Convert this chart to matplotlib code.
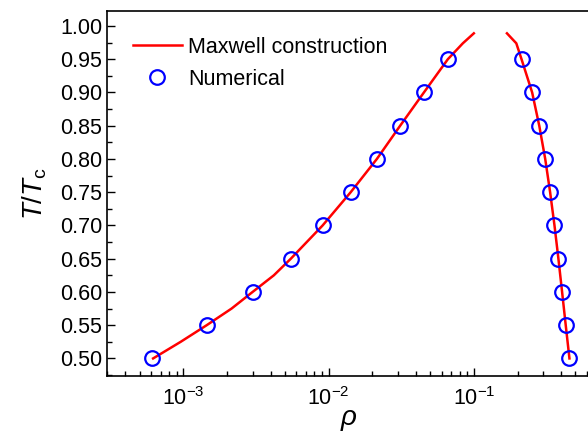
import numpy as np
import matplotlib
matplotlib.use("Agg")
import matplotlib.pyplot as plt
from matplotlib.ticker import LogLocator, MultipleLocator, FormatStrFormatter


# ==========================================================
# DATA
# ==========================================================

# Reduced temperatures of the numerical runs
T_NUM = [0.50, 0.55, 0.60, 0.65, 0.70, 0.75, 0.80, 0.85, 0.90, 0.95]

# Coexisting densities from the simulation (gas / liquid)
RHO_GAS_NUM = [6.07e-4, 1.45e-3, 3.0e-3, 5.5e-3, 9.1e-3, 0.0142, 0.0215, 0.0311, 0.0453, 0.0662]
RHO_LIQ_NUM = [0.455, 0.429, 0.405, 0.382, 0.359, 0.335, 0.310, 0.282, 0.252, 0.213]

# Maxwell construction, gas branch
T_MAX_GAS = [0.50, 0.525, 0.55, 0.575, 0.60, 0.625, 0.65, 0.70, 0.75, 0.80,
             0.85, 0.90, 0.95, 0.974, 0.989]
RHO_GAS_MAX = [6.2e-4, 9.6e-4, 1.45e-3, 2.15e-3, 3.0e-3, 4.2e-3, 5.5e-3, 9.1e-3, 0.0142, 0.0215,
               0.0311, 0.0453, 0.0662, 0.084, 0.100]

# Maxwell construction, liquid branch
T_MAX_LIQ = [0.50, 0.55, 0.60, 0.65, 0.70, 0.75, 0.80, 0.85, 0.90, 0.95, 0.974, 0.989]
RHO_LIQ_MAX = [0.455, 0.429, 0.405, 0.382, 0.359, 0.335, 0.310, 0.282, 0.252, 0.213, 0.196, 0.169]


# ==========================================================
# STYLE
# ==========================================================

plt.rcParams["font.family"] = ["Liberation Sans", "DejaVu Sans"]
plt.rcParams["mathtext.fontset"] = "custom"
plt.rcParams["mathtext.rm"] = "Liberation Sans"
plt.rcParams["mathtext.it"] = "Liberation Sans:italic"
plt.rcParams["axes.unicode_minus"] = False

FS = 15.5


def main():
    fig = plt.figure(figsize=(5.88, 4.34), dpi=100)
    ax = fig.add_axes([0.1825, 0.1343, 0.82, 0.841])

    ax.plot(RHO_GAS_MAX, T_MAX_GAS, color="red", lw=1.8, label="Maxwell construction")
    ax.plot(RHO_LIQ_MAX, T_MAX_LIQ, color="red", lw=1.8)
    ax.plot(RHO_GAS_NUM, T_NUM, "o", ms=10.5, mfc="none", mec="blue", mew=1.6,
            label="Numerical")
    ax.plot(RHO_LIQ_NUM, T_NUM, "o", ms=10.5, mfc="none", mec="blue", mew=1.6)

    ax.set_xscale("log")
    ax.set_xlim(3.0e-4, 0.625)
    ax.set_ylim(0.474, 1.023)

    ax.xaxis.set_major_locator(LogLocator(base=10, numticks=10))
    ax.xaxis.set_minor_locator(LogLocator(base=10, subs=np.arange(2, 10), numticks=20))
    ax.yaxis.set_major_locator(MultipleLocator(0.05))
    ax.yaxis.set_minor_locator(MultipleLocator(0.025))
    ax.yaxis.set_major_formatter(FormatStrFormatter("%.2f"))

    ax.tick_params(which="both", direction="in", top=False, right=False,
                   labelsize=FS, width=1.0, color="black")
    ax.tick_params(which="major", length=6)
    ax.tick_params(which="minor", length=3.5)
    ax.tick_params(axis="x", pad=8)

    for side in ["left", "bottom", "top"]:
        ax.spines[side].set_linewidth(1.2)
    ax.spines["right"].set_visible(False)

    ax.set_xlabel(r"$\rho$", fontsize=20, labelpad=-2)
    ax.set_ylabel(r"$T/T_{\mathrm{c}}$", fontsize=20, labelpad=8)

    ax.legend(loc="upper left", bbox_to_anchor=(0.021, 0.97), frameon=False,
              fontsize=FS, handlelength=2.3, handletextpad=0.3,
              borderaxespad=0.3, labelspacing=0.5)

    fig.savefig("out.png", dpi=100)


if __name__ == "__main__":
    main()
